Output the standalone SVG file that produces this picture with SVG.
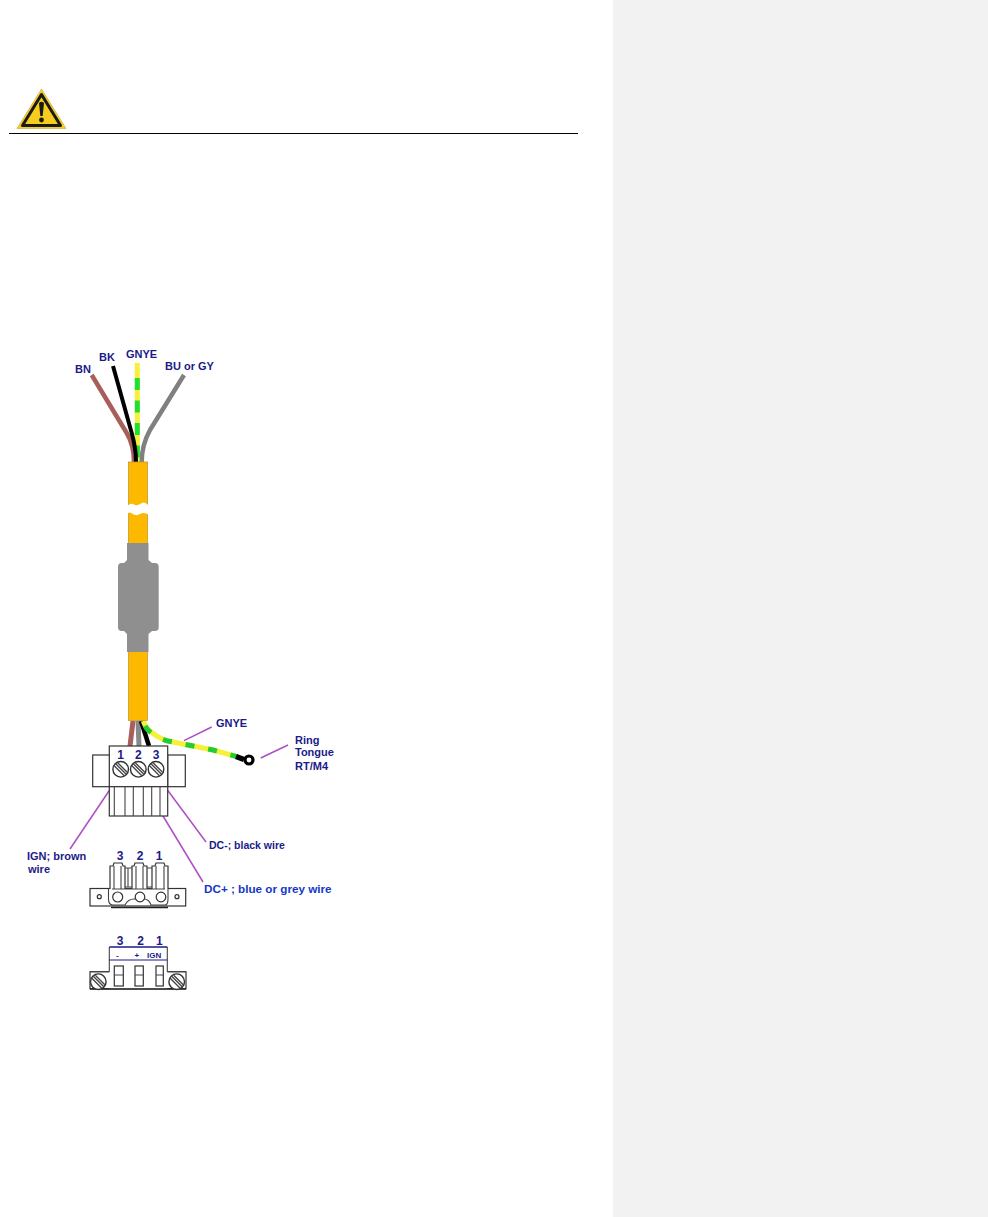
<svg xmlns="http://www.w3.org/2000/svg" width="988" height="1217" viewBox="0 0 988 1217">
<style>
.l{font-family:"Liberation Sans",Arial,sans-serif;font-weight:bold;font-size:11px;fill:#1b1b8a}
.b{fill:#1638c4}
.n{font-size:12px;text-anchor:middle}
.o{fill:#fff;stroke:#333;stroke-width:1.2}
.t{fill:none;stroke:#444;stroke-width:1.1}
.p{fill:none;stroke:#ad4fc4;stroke-width:1.500}
.w{fill:none;stroke-linecap:butt;stroke-linejoin:round}
</style>
<defs>
<g id="screw">
<circle r="7.800" fill="#fff" stroke="#333" stroke-width="1.400"/>
<path d="M-6.500 -3.500L3.500 6.500M-5 -5.500L5.500 5M-3 -6.500L6.500 3" stroke="#444" stroke-width="1.300" fill="none"/>
</g>
</defs>
<rect width="988" height="1217" fill="#fff"/>
<rect x="613" y="0" width="375" height="1217" fill="#f2f2f2"/>
<g id="warning">
<path d="M41.500 89L66 128.500H17Z" fill="#f6cd1e" stroke="#d9c060" stroke-width="1" stroke-linejoin="round"/>
<path d="M41.500 94.500L60.500 125.500H22.500Z" fill="#f6cd1e" stroke="#1a1a1a" stroke-width="3" stroke-linejoin="round"/>
<path d="M39 103Q41.500 100.500 44 103L42.700 116H40.300Z" fill="#1a1a1a"/>
<circle cx="41.500" cy="120" r="2.400" fill="#1a1a1a"/>
</g>
<path id="rule" d="M9 133.500H578" stroke="#000" stroke-width="1"/>
<g id="connectors">
<path class="w" d="M91.700 375L126.700 433Q134 445 134 462" stroke="#a85f5c" stroke-width="4.500"/>
<path class="w" d="M137.300 363V462" stroke="#f5f03a" stroke-width="5"/>
<path class="w" d="M137.300 378V462" stroke="#22dd33" stroke-width="5" stroke-dasharray="12 10.500"/>
<path class="w" d="M184 375L150 430Q141.700 445 141.700 462" stroke="#808080" stroke-width="4.500"/>
<path class="w" d="M113 366L131.700 433Q136 448 136 462" stroke="#000" stroke-width="4"/>
<path class="w" d="M133 721L130 746" stroke="#a85f5c" stroke-width="5"/>
<path class="w" d="M138 721L139 746" stroke="#888" stroke-width="5"/>
<path class="w" d="M141 721L149 746" stroke="#000" stroke-width="4.500"/>
<path class="w" d="M143.300 721Q147 733 166.700 740.700L213 750L237 756.700" stroke="#f5f03a" stroke-width="5"/>
<path class="w" d="M145 726Q150 735 166.700 740.700L213 750L237 756.700" stroke="#22cc33" stroke-width="5" stroke-dasharray="9 14"/>
<path class="p" d="M211.700 727L184 740.700"/>
<path class="p" d="M288 745L260.700 758"/>
<path class="p" d="M113 785L70 849"/>
<path class="p" d="M143 783L203 882"/>
<path class="p" d="M163 784L206 842"/>
</g>
<g id="cable">
<rect x="128.500" y="462" width="19" height="258.500" fill="#fdb900" stroke="#c79a2e" stroke-width="0.800"/>
<path d="M127 506Q131 502.500 134 504.500T141 503.500T149 506V515Q144 511.500 140 514T132 513.500T127 516Z" fill="#fff"/>
<path d="M127 543H148.500V560L152 563H155Q158.700 563 158.700 567V627Q158.700 631 155 631H152L148.500 634V652H127V634L124 631H121.500Q118 631 118 627V567Q118 563 121.500 563H124L127 560Z" fill="#8f8f8f"/>
</g>
<g id="lug">
<path d="M236 756.500L244 759.500" stroke="#000" stroke-width="5.500"/>
<circle cx="249" cy="760" r="4" fill="#fff" stroke="#000" stroke-width="3.200"/>
</g>
<g id="plug-top">
<rect class="o" x="92.700" y="755" width="17" height="31.700"/>
<rect class="o" x="167.700" y="755" width="17.600" height="31.700"/>
<rect class="o" x="109.300" y="746" width="58.400" height="40.700"/>
<rect class="o" x="109.300" y="786.700" width="58.400" height="29.300"/>
<path class="t" d="M114.300 786.700V816M125 786.700V816M133.300 786.700V816M143.300 786.700V816M151.700 786.700V816M160 786.700V816"/>
<use href="#screw" x="120.700" y="769.300"/>
<use href="#screw" x="138.300" y="769.300"/>
<use href="#screw" x="156" y="769.300"/>
<text class="l n" x="120.700" y="759">1</text>
<text class="l n" x="138.300" y="759">2</text>
<text class="l n" x="156" y="759">3</text>
</g>
<g id="plug-middle">
<text class="l n" x="120" y="860">3</text>
<text class="l n" x="140" y="860">2</text>
<text class="l n" x="159" y="860">1</text>
<rect class="o" x="90" y="888.500" width="95.700" height="17.500"/>
<path class="o" d="M110 889V866H113L114 863H122L123 866H125V889M132 889V866H134L135 863H143L144 866H147V889M152 889V866H155L156 863H164L165 866H168V889"/>
<path class="t" d="M114 866V889M121 866V889M125 868H132M125 887H132M128 868V887M136 866V889M143 866V889M147 868H152M147 887H152M156 866V889M164 866V889"/>
<path d="M108.500 889V899Q108.500 905 113 905H165Q168 905 168 899V889Z" fill="#fff"/>
<path class="t" d="M108.500 889V899Q108.500 905 113 905H125Q128 899 134 899H144Q149 899 151 905H165Q168 905 168 899V889M112 889H165"/>
<path d="M111 907.500H168" stroke="#222" stroke-width="1.500"/>
<circle class="o" cx="117.700" cy="897" r="5"/>
<circle class="o" cx="140" cy="897" r="4.800"/>
<circle class="o" cx="161" cy="897" r="4.800"/>
<circle class="o" cx="99.300" cy="896.700" r="2"/>
<circle class="o" cx="177" cy="896.700" r="2"/>
</g>
<g id="plug-bottom">
<text class="l n" x="120" y="945">3</text>
<text class="l n" x="140.700" y="945">2</text>
<text class="l n" x="159.300" y="945">1</text>
<rect class="o" x="90" y="971.700" width="96" height="17"/>
<rect x="109.300" y="947" width="58" height="41.700" fill="#fff"/>
<path class="t" d="M109.300 947V971.700M167.300 947V971.700M90 971.700H109.300M167.300 971.700H186"/>
<path d="M109.300 947H167.300" stroke="#1b1b8a" stroke-width="1.500"/>
<path d="M109.300 960H167.300" stroke="#1b1b8a" stroke-width="1"/>
<path d="M90 989H186" stroke="#222" stroke-width="1.600"/>
<rect class="o" x="114.300" y="966" width="9" height="20"/>
<rect class="o" x="135" y="966" width="8.300" height="20"/>
<rect class="o" x="156" y="966" width="7.300" height="20"/>
<path class="t" d="M114.300 975H123.300M135 975H143.300M156 975H163.300"/>
<use href="#screw" x="98.300" y="981.700"/>
<use href="#screw" x="176.700" y="981.700"/>
<text class="l" style="font-size:8px" x="116" y="957.500">-</text>
<text class="l" style="font-size:8px" x="134.500" y="957.500">+</text>
<text class="l" style="font-size:8px" x="147" y="957.500">IGN</text>
</g>
<g id="labels">
<text class="l" x="75" y="373">BN</text>
<text class="l" x="99" y="361">BK</text>
<text class="l" x="126" y="358">GNYE</text>
<text class="l" x="165" y="370">BU or GY</text>
<text class="l" x="216" y="727">GNYE</text>
<text class="l" x="295" y="744">Ring</text>
<text class="l" x="295" y="756">Tongue</text>
<text class="l" x="295" y="770">RT/M4</text>
<text class="l" x="27" y="860">IGN; brown</text>
<text class="l" x="28" y="873">wire</text>
<text class="l" style="font-size:10.500px" x="209" y="849">DC-; black wire</text>
<text class="l b" style="font-size:11.700px" x="204" y="893">DC+ ; blue or grey wire</text>
</g>
</svg>
